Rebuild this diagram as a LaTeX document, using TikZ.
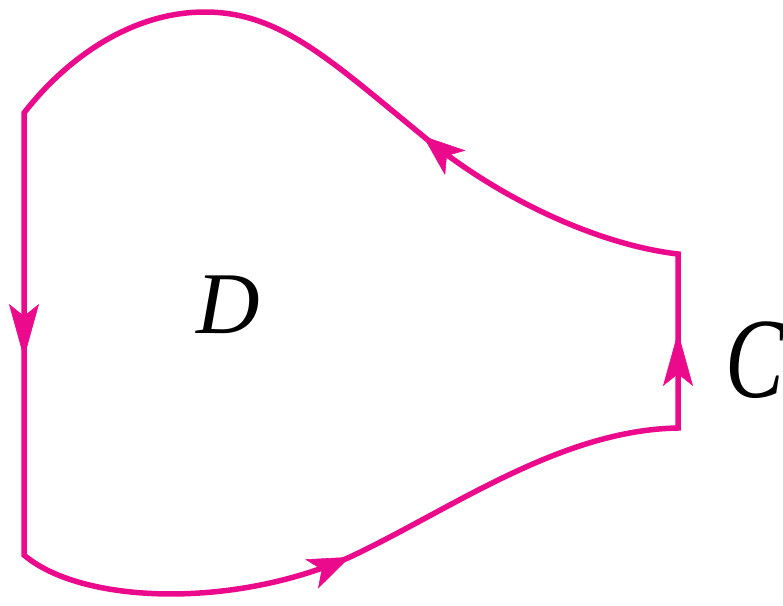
\documentclass[tikz,border=0pt]{standalone}
\usepackage{fontspec}
\setmainfont{Liberation Serif}
\usetikzlibrary{arrows.meta,calc}
\definecolor{mag}{RGB}{236,10,140}
\tikzset{
  curve/.style={draw=mag, line width=5.5pt, line join=miter},
  tipd/.style={draw=mag, fill=mag, line width=0.6pt, -{Stealth[length=42pt,width=32pt,inset=11pt]}},
  tipv/.style={draw=mag, fill=mag, line width=0.6pt, -{Stealth[length=54pt,width=30pt,inset=12pt]}},
  lab/.style={font=\itshape\fontsize{88}{88}\selectfont, inner sep=0pt}
}
\begin{document}
\begin{tikzpicture}[x=1pt,y=-1pt]
\useasboundingbox (0,0) rectangle (783,605);
\coordinate (tl) at (24,113);
\coordinate (bl) at (24,555);
\coordinate (br) at (678,428);
\coordinate (tr) at (678,254);
\coordinate (peak) at (205,12);
\coordinate (ta) at (423,136);
\coordinate (ba) at (350,557);
\coordinate (la) at (24,358);
\coordinate (ra) at (678,332);
\coordinate (tab) at ($(ta)!25pt!(500,200)$);
\coordinate (bab) at ($(ba)!25pt!(230,610)$);
\coordinate (lab0) at (24,330);
\coordinate (rab) at (678,360);
\draw[curve] (bl) .. controls (80,603) and (230,610) .. (ba)
  .. controls (450,510) and (560,430) .. (br)
  -- (tr)
  .. controls (600,245) and (500,200) .. (ta)
  .. controls (330,60) and (280,12) .. (peak)
  .. controls (130,12) and (65,60) .. (tl)
  -- cycle;
\draw[tipd] (tab) -- (ta);
\draw[tipd] (bab) -- (ba);
\draw[tipv] (lab0) -- (la);
\draw[tipv] (rab) -- (ra);
\node[lab] (D) at (228,305) {D};
\node[lab, yscale=1.3] (C) at (755,360) {C};
\end{tikzpicture}
\end{document}
